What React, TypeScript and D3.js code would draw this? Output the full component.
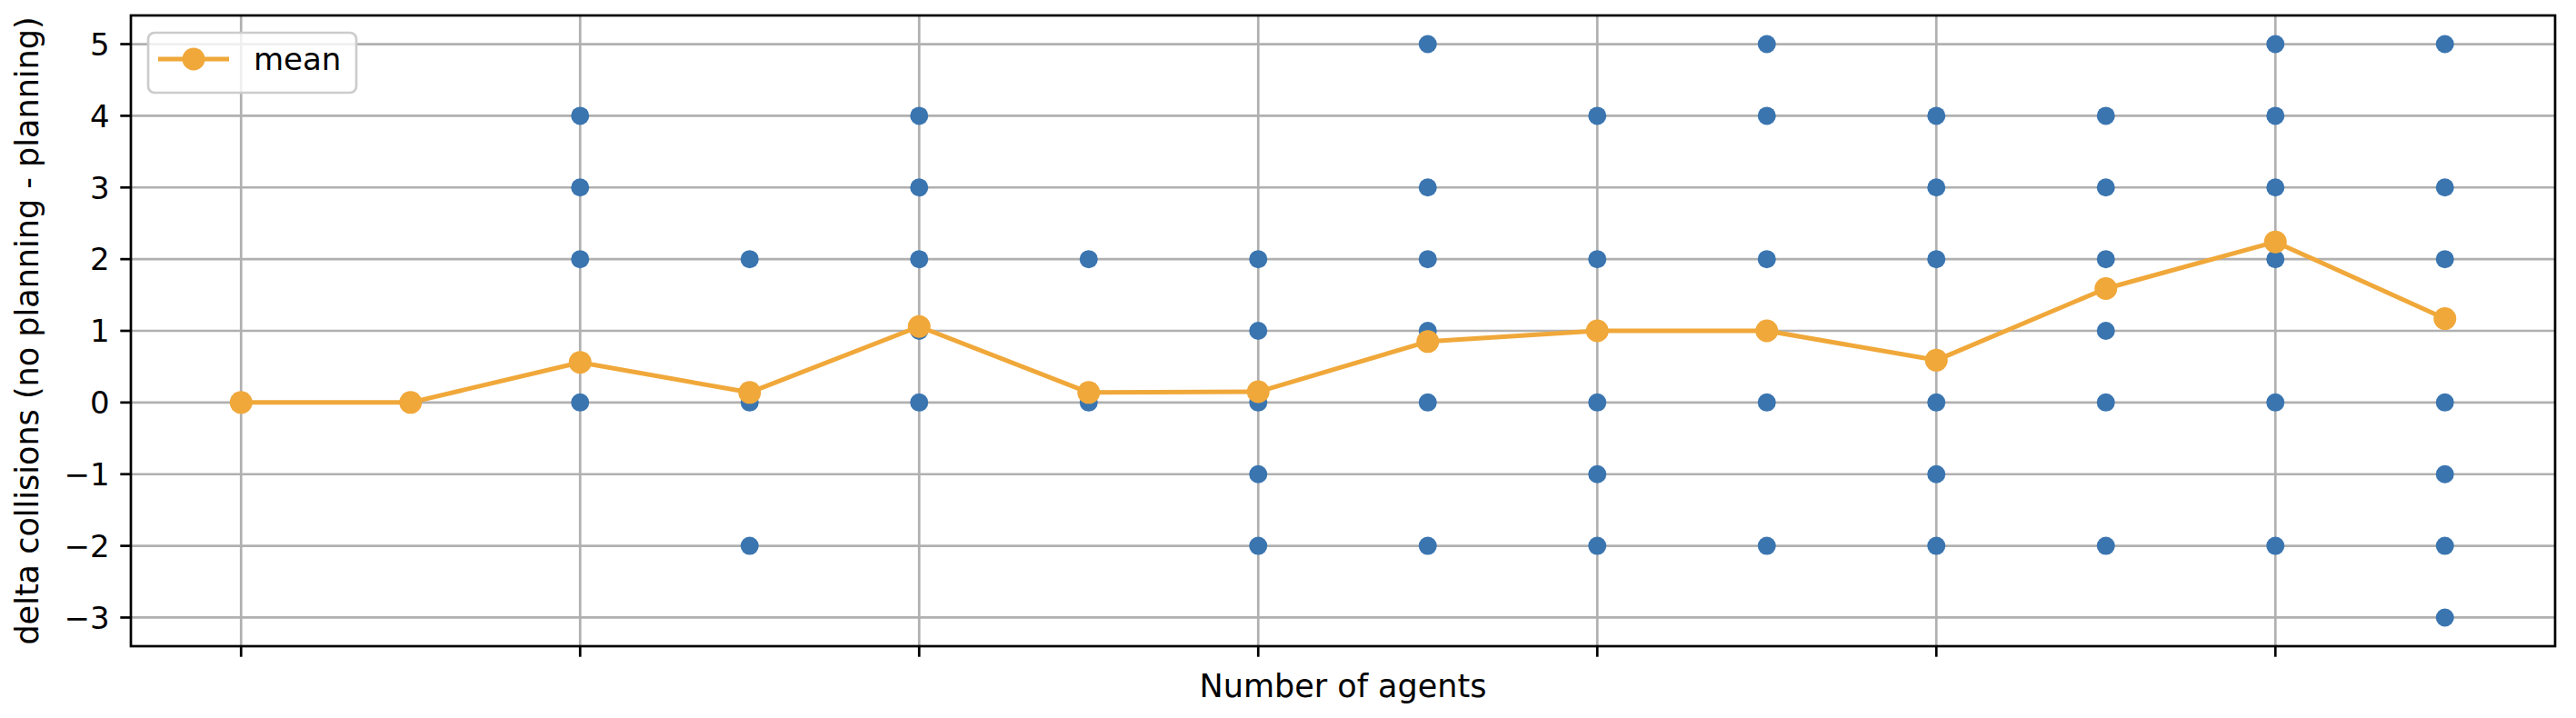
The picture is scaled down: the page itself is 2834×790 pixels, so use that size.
import React from "react";
import * as d3 from "d3";

// ---- data ----
const categoryIndex: number[] = [0, 1, 2, 3, 4, 5, 6, 7, 8, 9, 10, 11, 12, 13];
const collisionDeltas: number[][] = [
  [0],
  [0],
  [4, 3, 2, 0],
  [2, 0, -2],
  [4, 3, 2, 1, 0],
  [2, 0],
  [2, 1, 0, -1, -2],
  [5, 3, 2, 1, 0, -2],
  [4, 2, 1, 0, -1, -2],
  [5, 4, 2, 1, 0, -2],
  [4, 3, 2, 0, -1, -2],
  [4, 3, 2, 1, 0, -2],
  [5, 4, 3, 2, 0, -2],
  [5, 3, 2, 0, -1, -2, -3],
];
const meanDelta: number[] = [0, 0, 0.56, 0.14, 1.06, 0.14, 0.15, 0.85, 1.0, 1.0, 0.59, 1.59, 2.24, 1.17];
const xTicks: number[] = [0, 2, 4, 6, 8, 10, 12];
const yTicks: number[] = [-3, -2, -1, 0, 1, 2, 3, 4, 5];
const xLabel = "Number of agents";
const yLabel = "delta collisions (no planning - planning)";
const legendLabel = "mean";

// ---- styling ----
const W = 2834;
const H = 790;
const L = 144, R = 2811, T = 17, B = 711;
const BLUE = "#3a75b0";
const ORANGE = "#f0a83a";
const GRID = "#b0b0b0";
const FONT = "DejaVu Sans, sans-serif";
const FS = 34;
const LFS = 35;
const LW = 2.7;
const TICK = 11.7;

export default function App() {
  const x = d3.scaleLinear().domain([-0.65, 13.65]).range([L, R]);
  const y = d3.scaleLinear().domain([-3.4, 5.4]).range([B, T]);
  const line = d3
    .line<number>()
    .x((_, i) => x(categoryIndex[i]))
    .y((d) => y(d));

  const points: { cx: number; cy: number; key: string }[] = [];
  collisionDeltas.forEach((vals, i) =>
    vals.forEach((v, j) => points.push({ cx: x(categoryIndex[i]), cy: y(v), key: `${i}-${j}` }))
  );

  return (
    <svg
      width={W}
      height={H}
      viewBox={`0 0 ${W} ${H}`}
      style={{ position: "absolute", left: 0, top: 0, background: "#fff" }}
      fontFamily={FONT}
    >
      <rect x={0} y={0} width={W} height={H} fill="#fff" />
      {/* grid */}
      <g>
        {xTicks.map((t) => (
          <line key={`gx${t}`} x1={x(t)} x2={x(t)} y1={T} y2={B} stroke={GRID} strokeWidth={LW} />
        ))}
        {yTicks.map((t) => (
          <line key={`gy${t}`} x1={L} x2={R} y1={y(t)} y2={y(t)} stroke={GRID} strokeWidth={LW} />
        ))}
      </g>
      {/* scatter */}
      <g fill={BLUE}>
        {points.map((p) => (
          <circle key={p.key} cx={p.cx} cy={p.cy} r={10} />
        ))}
      </g>
      {/* mean line */}
      <path d={line(meanDelta) || ""} fill="none" stroke={ORANGE} strokeWidth={5} strokeLinejoin="round" />
      <g fill={ORANGE}>
        {meanDelta.map((v, i) => (
          <circle key={`m${i}`} cx={x(categoryIndex[i])} cy={y(v)} r={12.5} />
        ))}
      </g>
      {/* spines */}
      <rect x={L} y={T} width={R - L} height={B - T} fill="none" stroke="#000" strokeWidth={LW} />
      {/* ticks */}
      {xTicks.map((t) => (
        <line key={`tx${t}`} x1={x(t)} x2={x(t)} y1={B} y2={B + TICK} stroke="#000" strokeWidth={LW} />
      ))}
      {yTicks.map((t) => (
        <g key={`ty${t}`}>
          <line x1={L - TICK} x2={L} y1={y(t)} y2={y(t)} stroke="#000" strokeWidth={LW} />
          <text x={L - TICK - 11.7} y={y(t)} dy="0.36em" textAnchor="end" fontSize={FS} fill="#000">
            {t < 0 ? `\u2212${Math.abs(t)}` : `${t}`}
          </text>
        </g>
      ))}
      {/* axis labels */}
      <text x={(L + R) / 2} y={767} textAnchor="middle" fontSize={LFS} fill="#000">
        {xLabel}
      </text>
      <text
        transform={`translate(42,${(T + B) / 2}) rotate(-90)`}
        textAnchor="middle"
        fontSize={LFS}
        fill="#000"
      >
        {yLabel}
      </text>
      {/* legend */}
      <g>
        <rect x={163} y={36} width={229} height={66} rx={7} fill="#fff" fillOpacity={0.8} stroke="#cccccc" strokeWidth={2.7} />
        <line x1={174} x2={252} y1={65} y2={65} stroke={ORANGE} strokeWidth={5} />
        <circle cx={213} cy={65} r={12.5} fill={ORANGE} />
        <text x={279} y={77} fontSize={FS} fill="#000">
          {legendLabel}
        </text>
      </g>
    </svg>
  );
}
